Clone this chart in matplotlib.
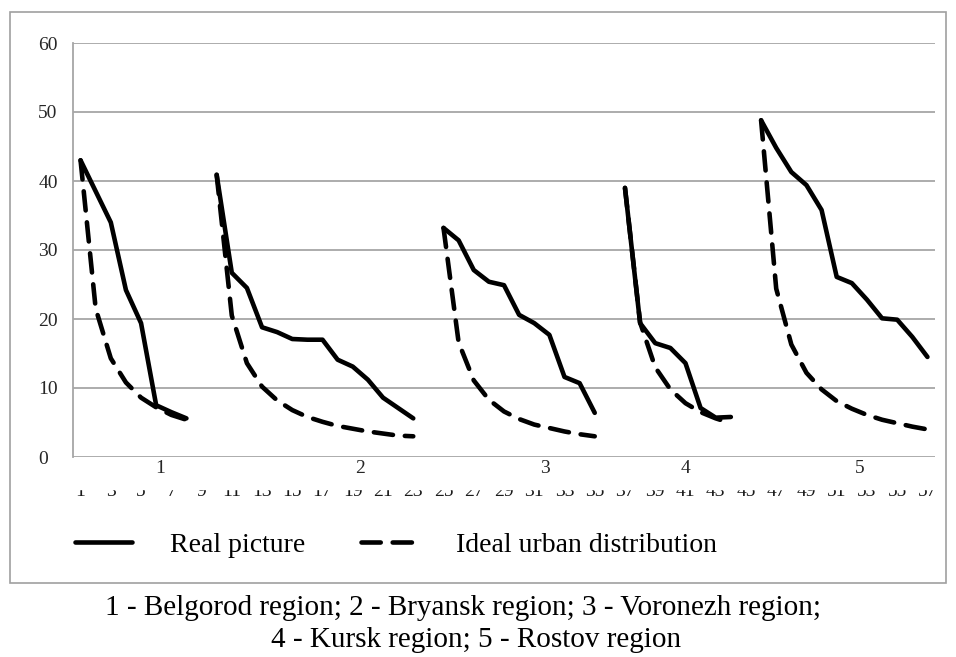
import numpy as np
import matplotlib
matplotlib.use('Agg')
import matplotlib.pyplot as plt
from matplotlib.patches import Rectangle

plt.rcParams['font.family'] = ['Liberation Serif', 'DejaVu Serif']

nan = np.nan
# city rank positions (category axis 1..57)
categories = list(range(1, 58))
tick_labels = [str(i) for i in categories[::2]]

# Real picture (gaps between regions)
real = [43.0, 38.5, 34.0, 24.2, 19.4, 7.5, 6.5, 5.6, nan,
        40.9, 26.7, 24.5, 18.8, 18.1, 17.1, 17.0, 17.0, 14.1, 13.1, 11.2, 8.6, 7.1, 5.6, nan,
        33.2, 31.4, 27.1, 25.4, 24.9, 20.6, 19.4, 17.7, 11.6, 10.7, 6.4, nan,
        39.0, 19.4, 16.5, 15.8, 13.6, 7.1, 5.7, 5.8, nan,
        48.8, 44.8, 41.3, 39.4, 35.8, 26.1, 25.2, 22.8, 20.1, 19.9, 17.4, 14.5]

# Ideal urban distribution
ideal = [43.0, 21.5, 14.3, 10.8, 8.6, 7.2, 6.1, 5.4, nan,
         40.9, 20.5, 13.6, 10.2, 8.2, 6.8, 5.8, 5.1, 4.5, 4.1, 3.7, 3.4, 3.1, 3.0, nan,
         33.2, 16.6, 11.1, 8.3, 6.6, 5.5, 4.7, 4.2, 3.7, 3.3, 3.0, nan,
         39.0, 19.5, 13.0, 9.8, 7.8, 6.5, 5.6, 4.9, nan,
         48.8, 24.4, 16.3, 12.2, 9.8, 8.1, 7.0, 6.1, 5.4, 4.9, 4.4, 4.0]

group_labels = ['1', '2', '3', '4', '5']
group_label_pos = [6.25, 19.5, 31.7, 41.0, 52.55]

caption1 = '1 - Belgorod region; 2 - Bryansk region; 3 - Voronezh region;'
caption2 = '4 - Kursk region; 5 - Rostov region'

W, H = 956, 657
fig = plt.figure(figsize=(W / 100, H / 100), dpi=100)
ax = fig.add_axes([73 / W, 1 - 457 / H, (935 - 73) / W, (457 - 43) / H])

x = np.array(categories)
l_ideal, = ax.plot(x, ideal, color='black', lw=3.3, ls=(0, (4.2, 2.6)),
                   dash_capstyle='round', label='Ideal urban distribution', zorder=3)
l_real, = ax.plot(x, real, color='black', lw=3.3, solid_capstyle='round',
                  solid_joinstyle='round', label='Real picture', zorder=4)

ax.set_xlim(0.5, 57.5)
ax.set_ylim(0, 60)
ax.set_yticks(range(0, 61, 10), labels=[str(v) for v in range(0, 61, 10)], ha='left')
ax.set_xticks(categories[::2], labels=tick_labels)
ax.yaxis.grid(True, color='#a6a6a6', lw=1.3)
ax.set_axisbelow(True)
for s in ['top', 'right', 'bottom']:
    ax.spines[s].set_visible(False)
ax.spines['left'].set_color('#a6a6a6')
ax.spines['left'].set_linewidth(1.3)
ax.tick_params(axis='y', length=0, pad=25, labelsize=14, labelcolor='#262626')
ax.tick_params(axis='x', length=0, pad=18.8, labelsize=14, labelcolor='#1a1a1a')

for lab, gx in zip(group_labels, group_label_pos):
    ax.text(gx, -0.0266, lab, transform=ax.get_xaxis_transform(), ha='center',
            va='center', fontsize=14, color='#262626')

# clipped category labels (as in the original)
fig.add_artist(Rectangle((60 / W, 1 - 489 / H), (940 - 60) / W, 11 / H,
                         transform=fig.transFigure, color='white', zorder=10))

# outer chart border
fig.add_artist(Rectangle((10 / W, 1 - 583 / H), 936 / W, 571 / H, fill=False,
                         ec='#a0a0a0', lw=1.2, transform=fig.transFigure, zorder=11))

fig.legend(handles=[l_real, l_ideal], loc='center left',
           bbox_to_anchor=(75 / W, 1 - 545 / H), ncol=2, frameon=False,
           fontsize=20, handlelength=2.05, handletextpad=1.37, columnspacing=2.0,
           borderpad=0, borderaxespad=0)

fig.text(463 / W, 1 - 608 / H, caption1, ha='center', va='center', fontsize=21)
fig.text(476 / W, 1 - 640 / H, caption2, ha='center', va='center', fontsize=21)

fig.savefig('out.png', dpi=100)
